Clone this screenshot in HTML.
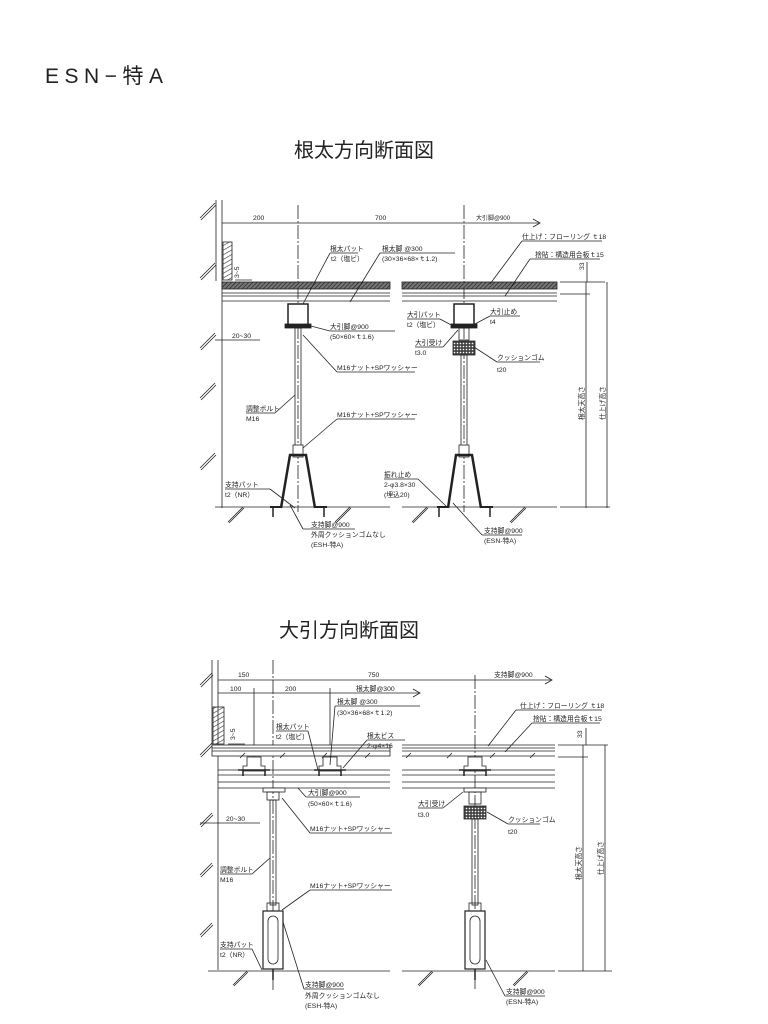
<!DOCTYPE html>
<html><head><meta charset="utf-8"><style>
body{margin:0;background:#fff;width:768px;height:1024px;overflow:hidden}
svg{display:block}
text{font-family:"Liberation Sans","Noto Sans CJK JP",sans-serif;fill:#222}
.s{font-size:6.8px}
</style></head><body>
<svg width="768" height="1024" viewBox="0 0 768 1024" xmlns="http://www.w3.org/2000/svg">
<defs>
<pattern id="h" width="3" height="3" patternUnits="userSpaceOnUse" patternTransform="rotate(45)"><rect width="3" height="3" fill="#777"/><line x1="0" y1="0" x2="0" y2="3" stroke="#222" stroke-width="1.4"/></pattern>
<pattern id="w" width="4" height="4" patternUnits="userSpaceOnUse" patternTransform="rotate(60)"><line x1="0" y1="0" x2="0" y2="4" stroke="#333" stroke-width="1.2"/></pattern>
<pattern id="c" width="3" height="3" patternUnits="userSpaceOnUse"><rect width="3" height="3" fill="#444"/><circle cx="1.5" cy="1.5" r="0.8" fill="#fff"/></pattern>
</defs>
<text x="45" y="83" font-size="21" letter-spacing="5.5">ESN−特A</text>
<text x="294" y="157" font-size="20">根太方向断面図</text>
<text x="279" y="637" font-size="20">大引方向断面図</text>

<g stroke="#222" fill="none" stroke-width="0.8">
<!-- ===== TOP ===== -->
<line x1="222" y1="200" x2="222" y2="508"/><line x1="216" y1="200" x2="216" y2="281"/>
<path d="M200 218L215 203M201 220L216 205M200 278L215 263M201 280L216 265M200 348L215 333M201 350L216 335M200 398L215 383M201 400L216 385M200 468L215 453M201 470L216 455"/>
<rect x="223" y="242" width="9" height="38" fill="url(#w)"/>
<line x1="222" y1="223" x2="540" y2="223"/><path d="M533 219 L540 223 L533 227"/>
<line x1="298" y1="205" x2="298" y2="512" stroke-dasharray="14 2 2 2"/>
<line x1="464" y1="205" x2="464" y2="512" stroke-dasharray="14 2 2 2"/>
<line x1="235" y1="280" x2="252" y2="280"/>
<line x1="215" y1="340" x2="260" y2="340"/>
<rect x="222" y="282" width="168" height="7" fill="url(#h)"/>
<rect x="402" y="282" width="155" height="7" fill="url(#h)"/>
<path d="M222 293H390M222 296H390M222 301H390M402 293H557M402 296H557M402 301H557"/>
<path d="M560 282H605M560 294H590"/>
<rect x="288" y="304" width="20" height="22" fill="#fff" stroke-width="1.5"/>
<rect x="285" y="324" width="26" height="4" fill="#222"/>
<rect x="295" y="328" width="6" height="120"/>
<rect x="293" y="445" width="10" height="12" fill="#fff"/>
<path d="M281 508 L290 455 L306 455 L315 508" stroke-width="2.5"/>
<path d="M270 507H281M315 507H327" stroke-width="2"/>
<line x1="273" y1="507" x2="273" y2="517" stroke-width="1.5"/><line x1="324" y1="507" x2="324" y2="517" stroke-width="1.5"/>
<rect x="454" y="304" width="20" height="22" fill="#fff" stroke-width="1.5"/>
<rect x="451" y="324" width="26" height="4" fill="#222"/>
<rect x="459" y="328" width="10" height="12"/>
<rect x="453" y="341" width="22" height="14" fill="url(#c)"/>
<rect x="461" y="355" width="6" height="93"/>
<rect x="459" y="445" width="10" height="12" fill="#fff"/>
<path d="M448 508 L456 455 L472 455 L481 508" stroke-width="2.5"/>
<path d="M437 507H448M481 507H493" stroke-width="2"/>
<line x1="439" y1="507" x2="439" y2="517" stroke-width="1.5"/><line x1="490" y1="507" x2="490" y2="517" stroke-width="1.5"/>
<path d="M215 507H390M402 507H557M560 507H610"/>
<path d="M228 522L243 507M229 523L244 508M335 522L350 507M336 523L351 508M412 522L427 507M413 523L428 508M510 522L525 507M511 523L526 508"/>
<line x1="586" y1="282" x2="586" y2="508"/><line x1="607" y1="282" x2="607" y2="508"/>
<line x1="587" y1="262" x2="587" y2="282"/>
<path d="M330 253H358M330 253L303 304"/>
<path d="M380 253H455M380 253L350 302"/>
<path d="M522 241H602M522 241L490 284"/>
<path d="M530 259H600M530 259L505 296"/>
<path d="M330 331H395M330 331L307 325"/>
<path d="M337 372H415M337 372L303 335"/>
<path d="M337 419H415M337 419L303 448"/>
<path d="M246 413H275M275 413L295 395"/>
<path d="M225 489H270M270 489L295 508"/>
<path d="M303 529H355M303 529L290 505"/>
<path d="M407 319H440M440 319L455 327"/>
<path d="M490 316H520M490 316L475 324"/>
<path d="M415 347H443M443 347L458 330"/>
<path d="M497 362H540M497 362L474 347"/>
<path d="M384 479H418M418 479L447 507"/>
<path d="M482 535H522M482 535L453 503"/>

<!-- ===== BOTTOM ===== -->
<line x1="218" y1="660" x2="218" y2="970"/><line x1="212" y1="660" x2="212" y2="745"/>
<path d="M200 685L212 673M201 687L213 675M200 755L212 743M201 757L213 745M200 825L212 813M201 827L213 815M200 875L212 863M201 877L213 865M200 935L212 923M201 937L213 925"/>
<rect x="213" y="707" width="11" height="37" fill="url(#w)"/>
<line x1="218" y1="680" x2="552" y2="680"/><path d="M545 676 L552 680 L545 684"/>
<line x1="218" y1="693" x2="420" y2="693"/><path d="M413 689 L420 693 L413 697"/>
<line x1="273" y1="660" x2="273" y2="990" stroke-dasharray="14 2 2 2"/>
<line x1="254" y1="688" x2="254" y2="770"/><line x1="330" y1="688" x2="330" y2="770"/>
<line x1="475" y1="675" x2="475" y2="990" stroke-dasharray="14 2 2 2"/>
<line x1="228" y1="744" x2="245" y2="744"/>
<line x1="200" y1="823" x2="260" y2="823"/>
<rect x="212" y="745" width="178" height="11" fill="#fff"/>
<path d="M212 748H390M212 751H390M402 745H555M402 748H555M402 751H555M402 756H555"/>
<path d="M558 745H608M558 757H588"/>
<path d="M240 758L245 753M280 758L285 753M322 758L327 753M365 758L370 753M406 758L411 753M447 758L452 753M490 758L495 753M530 758L535 753"/>
<path d="M218 770H390M218 775H390M218 782H390M218 788H390M402 770H555M402 775H555M402 782H555M402 788H555"/>
<g fill="#fff"><path d="M247 757h14v9h4v5h-22v-5h4z"/><path d="M323 757h14v9h4v5h-22v-5h4z"/><path d="M468 757h14v9h4v5h-22v-5h4z"/></g>
<path d="M238 770H270M243 770V776M265 770V776M314 770H346M319 770V776M341 770V776M459 770H491M464 770V776M486 770V776" stroke-width="1.5"/>
<rect x="263" y="788" width="22" height="4" fill="#fff"/>
<rect x="267" y="792" width="12" height="8"/>
<rect x="270" y="800" width="6" height="105"/>
<rect x="267" y="903" width="12" height="8"/>
<rect x="263" y="911" width="20" height="58" fill="#fff" stroke-width="1.2"/>
<rect x="268" y="916" width="10" height="48" rx="5"/>
<line x1="273" y1="969" x2="273" y2="980" stroke-width="1.5"/>
<rect x="464" y="788" width="22" height="4" fill="#fff"/>
<rect x="469" y="792" width="12" height="12"/>
<rect x="464" y="806" width="22" height="13" fill="url(#c)"/>
<rect x="472" y="819" width="6" height="86"/>
<rect x="469" y="903" width="12" height="8"/>
<rect x="465" y="911" width="20" height="58" fill="#fff" stroke-width="1.2"/>
<rect x="470" y="916" width="10" height="48" rx="5"/>
<line x1="475" y1="969" x2="475" y2="980" stroke-width="1.5"/>
<path d="M208 971H390M402 971H555M558 971H612"/>
<path d="M233 985L247 971M234 986L248 972M418 985L432 971M419 986L433 972M513 985L527 971M514 986L528 972"/>
<line x1="583" y1="745" x2="583" y2="971"/><line x1="605" y1="745" x2="605" y2="971"/>
<line x1="586" y1="728" x2="586" y2="745"/>
<path d="M276 731H308M308 731L318 770"/>
<path d="M335 706H420M335 706L330 765"/>
<path d="M367 740H405M367 740L343 768"/>
<path d="M516 710H602M516 710L488 746"/>
<path d="M532 723H600M532 723L505 752"/>
<path d="M306 797H360M306 797L298 788"/>
<path d="M310 833H392M310 833L282 798"/>
<path d="M310 890H392M310 890L282 910"/>
<path d="M220 874H252M252 874L270 858"/>
<path d="M220 949H252M252 949L262 970"/>
<path d="M304 989H344M304 989L283 922"/>
<path d="M418 808H443M443 808L463 792"/>
<path d="M508 824H540M508 824L487 812"/>
<path d="M505 996H545M505 996L486 960"/>
</g>

<g class="s">
<text x="253" y="220">200</text><text x="375" y="220">700</text><text x="476" y="220" font-size="6">大引脚@900</text>
<text x="330" y="251">根太パット</text><text x="331" y="261">t2（塩ビ）</text>
<text x="382" y="251">根太脚 @300</text><text x="382" y="261">(30×36×68×ｔ1.2)</text>
<text x="522" y="239">仕上げ：フローリング ｔ18</text><text x="535" y="257">捨貼：構造用合板ｔ15</text>
<text x="232" y="338">20~30</text>
<text x="330" y="329">大引脚@900</text><text x="330" y="339">(50×60×ｔ1.6)</text>
<text x="337" y="370">M16ナット+SPワッシャー</text>
<text x="337" y="417">M16ナット+SPワッシャー</text>
<text x="246" y="411">調整ボルト</text><text x="246" y="421">M16</text>
<text x="225" y="487">支持パット</text><text x="225" y="497">t2（NR）</text>
<text x="311" y="527">支持脚@900</text><text x="311" y="537">外周クッションゴムなし</text><text x="311" y="547">(ESH-特A)</text>
<text x="407" y="317">大引パット</text><text x="407" y="327">t2（塩ビ）</text>
<text x="490" y="314">大引止め</text><text x="490" y="324">t4</text>
<text x="415" y="345">大引受け</text><text x="415" y="355">t3.0</text>
<text x="497" y="360">クッションゴム</text><text x="497" y="372">t20</text>
<text x="384" y="477">振れ止め</text><text x="384" y="487">2-φ3.8×30</text><text x="384" y="497">(埋込20)</text>
<text x="484" y="533">支持脚@900</text><text x="484" y="543">(ESN-特A)</text>
<text transform="translate(584,270) rotate(-90)">33</text>
<text transform="translate(584,420) rotate(-90)">根太天高さ</text>
<text transform="translate(605,420) rotate(-90)">仕上げ高さ</text>
<text transform="translate(239,278) rotate(-90)">3~5</text>

<text x="238" y="677">150</text><text x="368" y="677">750</text><text x="494" y="677">支持脚@900</text>
<text x="230" y="691">100</text><text x="285" y="691">200</text><text x="356" y="691">根太脚@300</text>
<text x="337" y="704">根太脚 @300</text><text x="337" y="715">(30×36×68×ｔ1.2)</text>
<text x="276" y="729">根太パット</text><text x="276" y="739">t2（塩ビ）</text>
<text x="367" y="738">根太ビス</text><text x="367" y="748">2-φ4×16</text>
<text x="520" y="708">仕上げ：フローリング ｔ18</text><text x="533" y="721">捨貼：構造用合板ｔ15</text>
<text x="226" y="821">20~30</text>
<text x="308" y="795">大引脚@900</text><text x="308" y="806">(50×60×ｔ1.6)</text>
<text x="310" y="831">M16ナット+SPワッシャー</text>
<text x="310" y="888">M16ナット+SPワッシャー</text>
<text x="220" y="872">調整ボルト</text><text x="220" y="882">M16</text>
<text x="220" y="947">支持パット</text><text x="220" y="957">t2（NR）</text>
<text x="305" y="987">支持脚@900</text><text x="305" y="998">外周クッションゴムなし</text><text x="305" y="1008">(ESH-特A)</text>
<text x="418" y="806">大引受け</text><text x="418" y="817">t3.0</text>
<text x="508" y="822">クッションゴム</text><text x="508" y="834">t20</text>
<text x="506" y="994">支持脚@900</text><text x="506" y="1004">(ESN-特A)</text>
<text transform="translate(582,738) rotate(-90)">33</text>
<text transform="translate(581,880) rotate(-90)">根太天高さ</text>
<text transform="translate(603,875) rotate(-90)">仕上げ高さ</text>
<text transform="translate(235,740) rotate(-90)">3~5</text>
</g>
</svg>
</body></html>
